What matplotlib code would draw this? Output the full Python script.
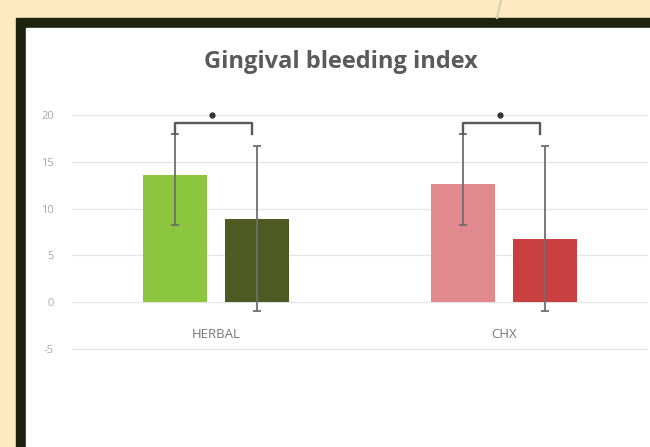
import numpy as np
import matplotlib.pyplot as plt
from matplotlib.patches import Rectangle
from matplotlib.lines import Line2D

# data
categories = ['HERBAL', 'CHX']
first_vals = [13.6, 12.6]
second_vals = [8.9, 6.7]
first_lo = [8.3, 8.3]
first_hi = [18.0, 18.0]
second_lo = [-0.9, -0.9]
second_hi = [16.7, 16.7]
yticks = [-5, 0, 5, 10, 15, 20]

first_colors = ['#8cc63f', '#e08a8d']
second_colors = ['#4f5a22', '#c8403f']

W, H = 650, 447
fig = plt.figure(figsize=(W / 100, H / 100), dpi=100)
fig.patch.set_facecolor('#fdeac0')

# slide frame (photo of a slide): dark border, white panel
def px_rect(x0, y0, x1, y1, color, z):
    fig.patches.append(Rectangle((x0 / W, 1 - y1 / H), (x1 - x0) / W, (y1 - y0) / H,
                                 transform=fig.transFigure, color=color, zorder=z))

px_rect(16, 18, 700, 500, '#1c2410', 0)
px_rect(26, 28, 700, 500, '#ffffff', 1)
fig.lines.append(Line2D([501 / W, 497 / W], [1.0, 1 - 18 / H], transform=fig.transFigure,
                        color='#d8ccb0', lw=1.5, zorder=2))

# y = 20 at 115 px, y = -5 at 349 px
ppu = (349 - 115) / 25
ylo, yhi = -5.3, 20
ax = fig.add_axes([72 / W, 1 - (349 + 0.3 * ppu) / H, (648 - 72) / W, (349 + 0.3 * ppu - 115) / H])
ax.set_facecolor('none')
ax.set_zorder(3)

x = np.arange(len(categories))
off = 0.142
bw = 0.222

ax.bar(x - off, first_vals, bw, color=first_colors, zorder=2)
ax.bar(x + off, second_vals, bw, color=second_colors, zorder=2)

# error bars (asymmetric)
f = np.array(first_vals)
s = np.array(second_vals)
ax.errorbar(x - off, f, yerr=[f - np.array(first_lo), np.array(first_hi) - f], fmt='none',
            ecolor='#6e6e6e', elinewidth=1.3, capsize=3, capthick=1.3, zorder=3)
ax.errorbar(x + off, s, yerr=[s - np.array(second_lo), np.array(second_hi) - s], fmt='none',
            ecolor='#6e6e6e', elinewidth=1.3, capsize=3, capthick=1.3, zorder=3)

# significance brackets
for i in range(len(categories)):
    xl, xr = i - off, i + off - 0.017
    ax.plot([xl, xl, xr, xr], [first_hi[i], 19.1, 19.1, 18.0], color='#5a5a5a', lw=1.7,
            zorder=4, clip_on=False)
    ax.plot([i - 0.015], [20.0], marker='o', ms=3.5, color='#333333', zorder=4, clip_on=False)

ax.set_xlim(-0.5, 1.5)
ax.set_ylim(ylo, yhi)
ax.set_yticks(yticks)
ax.set_yticklabels([str(t) for t in yticks], family='Open Sans')
ax.set_xticks([])
ax.grid(axis='y', color='#e4e4e4', lw=0.9, zorder=0)
ax.set_axisbelow(True)
for sp in ax.spines.values():
    sp.set_visible(False)
ax.tick_params(axis='y', length=0, labelsize=8, labelcolor='#a8a8a8', pad=13)

# category labels sit between 0 and -5 like the reference
for i, c in enumerate(categories):
    ax.text(i, -3.5, c, ha='center', va='center', fontsize=9.5, color='#777777',
            family='Open Sans')

fig.text(341 / W, 1 - 68 / H, 'Gingival bleeding index', ha='center', va='baseline',
         fontsize=17, fontweight='bold', color='#5a5a5a', family='Open Sans', zorder=5)

fig.savefig('out.png', dpi=100, facecolor=fig.get_facecolor())
